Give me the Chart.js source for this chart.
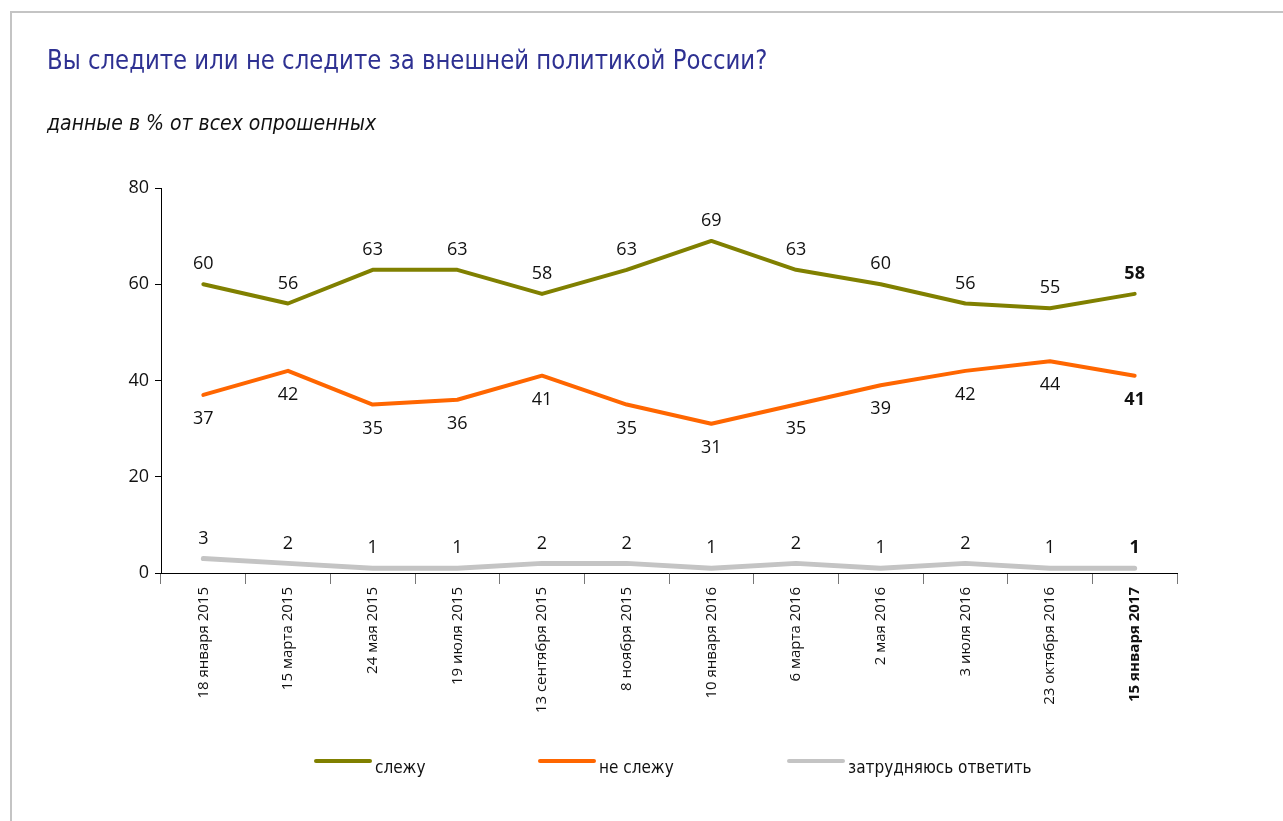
<!DOCTYPE html>
<html>
<head>
<meta charset="utf-8">
<script src="https://cdn.jsdelivr.net/npm/chart.js@4.4.1/dist/chart.umd.min.js"></script>
<style>
  body { margin: 0; background: #fff; overflow: hidden; }
  #frame { position: absolute; left: 10px; top: 11px; width: 1400px; height: 900px;
           border-top: 2px solid #c4c4c4; border-left: 2px solid #c4c4c4; }
  #title { position: absolute; left: 47px; top: 44px; color: #2e3192; white-space: nowrap;
           font: 27px "DejaVu Sans Condensed", sans-serif;
           transform: scaleX(0.94); transform-origin: left top; }
  #subtitle { position: absolute; left: 47px; top: 111px; color: #111; white-space: nowrap;
              font: italic 21px "DejaVu Sans Condensed", sans-serif; }
  #wrap { position: absolute; left: 0; top: 0; width: 1283px; height: 821px; }
  .lg { position: absolute; top: 757px; display: flex; align-items: center; white-space: nowrap;
        font: 17px "DejaVu Sans Condensed", sans-serif; color: #111; }
  .lg i { display: inline-block; width: 58px; height: 4px; border-radius: 2px; margin-right: 3px; margin-top: -12px; }
</style>
</head>
<body>
<div id="frame"></div>
<div id="wrap"><canvas id="myChart"></canvas></div>
<div id="title">Вы следите или не следите за внешней политикой России?</div>
<div id="subtitle">данные в % от всех опрошенных</div>
<div id="legend"></div>
<script>
const pollDates = ['18 января 2015', '15 марта 2015', '24 мая 2015', '19 июля 2015',
  '13 сентября 2015', '8 ноября 2015', '10 января 2016', '6 марта 2016', '2 мая 2016',
  '3 июля 2016', '23 октября 2016', '15 января 2017'];
const follow = [60, 56, 63, 63, 58, 63, 69, 63, 60, 56, 55, 58];
const notFollow = [37, 42, 35, 36, 41, 35, 31, 35, 39, 42, 44, 41];
const hardToSay = [3, 2, 1, 1, 2, 2, 1, 2, 1, 2, 1, 1];
const seriesNames = ['слежу', 'не слежу', 'затрудняюсь ответить'];
const yTicks = [0, 20, 40, 60, 80];

const FONT = '"Open Sans", sans-serif';
const lastIdx = pollDates.length - 1;

// numbers next to every point, the newest one in bold
const valueLabels = {
  id: 'valueLabels',
  afterDatasetsDraw(chart) {
    const ctx = chart.ctx;
    ctx.save();
    ctx.fillStyle = '#111';
    ctx.textAlign = 'center';
    ctx.textBaseline = 'middle';
    chart.data.datasets.forEach((ds, i) => {
      chart.getDatasetMeta(i).data.forEach((pt, j) => {
        ctx.font = (j === lastIdx ? 'bold ' : '') + '18px ' + FONT;
        ctx.fillText(ds.data[j], pt.x, pt.y + ds.labelShift);
      });
    });
    ctx.restore();
  }
};

const ctx = document.getElementById('myChart').getContext('2d');
const myChart = new Chart(ctx, {
  type: 'line',
  data: {
    labels: pollDates,
    datasets: [
      { label: seriesNames[0], data: follow, borderColor: '#808000', borderWidth: 4, labelShift: -20 },
      { label: seriesNames[1], data: notFollow, borderColor: '#ff6600', borderWidth: 4, labelShift: 24 },
      { label: seriesNames[2], data: hardToSay, borderColor: '#c4c4c4', borderWidth: 5, labelShift: -20 }
    ]
  },
  options: {
    responsive: true,
    maintainAspectRatio: false,
    animation: false,
    events: [],
    layout: { padding: { left: 111, right: 106, top: 188, bottom: 98 } },
    elements: {
      point: { radius: 0 },
      line: { tension: 0, borderCapStyle: 'round', borderJoinStyle: 'round' }
    },
    plugins: { legend: { display: false }, tooltip: { enabled: false } },
    scales: {
      x: {
        offset: true,
        afterFit: s => { s.height = 150; },
        grid: { offset: true, drawOnChartArea: false, drawTicks: true, tickLength: 11, color: '#777' },
        border: { display: true, color: '#000', width: 1 },
        ticks: {
          minRotation: 90, maxRotation: 90, autoSkip: false, padding: 3, color: '#111',
          font: c => ({ family: FONT, size: 15, weight: c.index === lastIdx ? 'bold' : 'normal' })
        }
      },
      y: {
        min: 0, max: 80,
        afterFit: s => { s.width = 50; },
        afterBuildTicks: s => { s.ticks = yTicks.map(v => ({ value: v })); },
        grid: { drawOnChartArea: false, drawTicks: true, tickLength: 6, color: '#000' },
        border: { display: true, color: '#000', width: 1 },
        ticks: { padding: 6, color: '#111', font: { family: FONT, size: 18 } }
      }
    }
  },
  plugins: [valueLabels]
});

// legend row under the chart
const legendLeft = [314, 538, 787];
const legend = document.getElementById('legend');
myChart.data.datasets.forEach((ds, i) => {
  const item = document.createElement('div');
  item.className = 'lg';
  item.style.left = legendLeft[i] + 'px';
  item.innerHTML = '<i style="background:' + ds.borderColor + '"></i>' + ds.label;
  legend.appendChild(item);
});
</script>
</body>
</html>
